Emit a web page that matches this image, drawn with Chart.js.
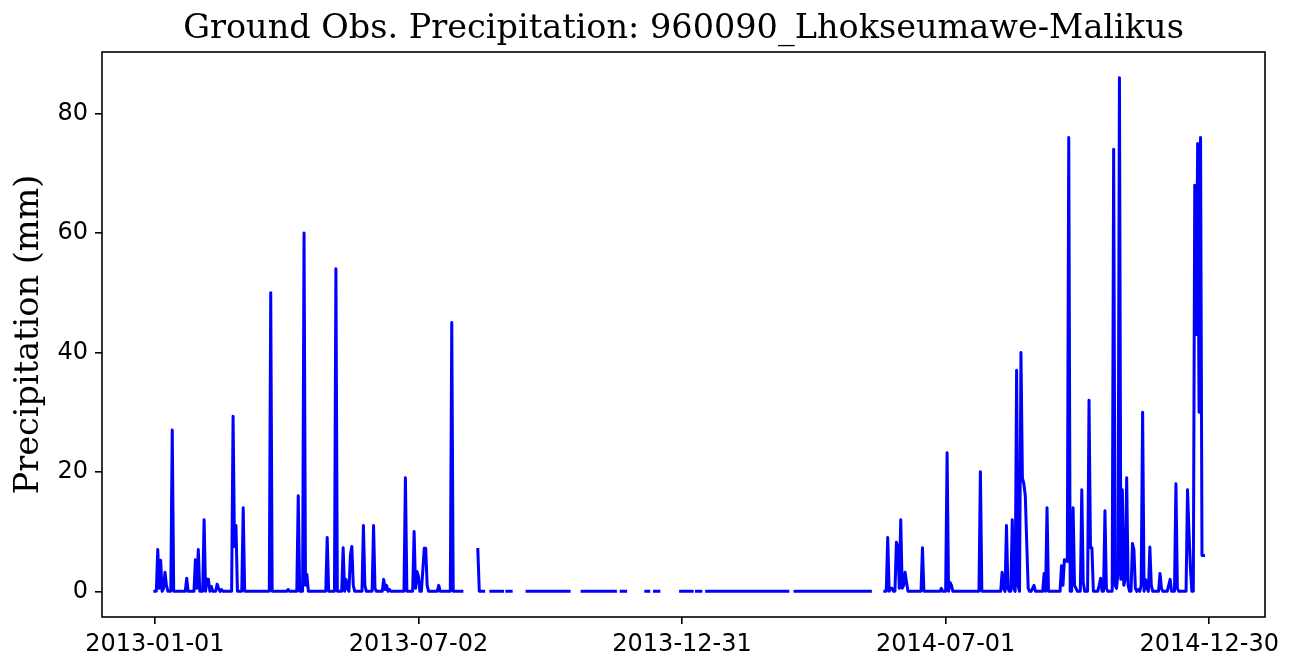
<!DOCTYPE html>
<html>
<head>
<meta charset="utf-8">
<title>Ground Obs. Precipitation</title>
<script src="https://cdn.jsdelivr.net/npm/chart.js@4.4.0/dist/chart.umd.min.js"></script>
<style>
    html, body { margin: 0; padding: 0; background: #fff; }
    #wrap { width: 1297px; height: 672px; }
</style>
</head>
<body>
<div id="wrap"><canvas id="precipChart" width="1297" height="672"></canvas></div>
<script>
    // Day offsets are counted from 2013-01-01
    // Days with observations (inclusive ranges); everything else is missing
    var validStart = [0, 223, 232, 243, 257, 275, 282, 295, 311, 322, 339, 345, 363, 368, 374, 381, 386, 442, 455, 458, 504];
    var validEnd   = [212, 227, 240, 246, 273, 280, 286, 309, 318, 325, 341, 348, 366, 371, 377, 384, 437, 453, 456, 494, 724];

    // Rainy days (mm); other observed days are 0
    var rainDay = [
        2, 3, 4, 6, 7, 8, 12, 22, 28, 29, 30, 34, 36, 37, 39, 43, 44, 46,
        54, 55, 56, 61, 80, 92, 99, 103, 104, 105, 119, 125,
        130, 132, 133, 135, 136, 137, 144, 145, 151, 152, 158, 159, 160, 162,
        173, 179, 180, 181, 182, 185, 186, 187, 188, 196, 205, 223,
        506, 508, 509, 512, 513, 514, 515, 516, 517, 518, 519, 530, 543,
        547, 549, 550, 570, 585, 586, 588, 589, 592, 593,
        595, 596, 598, 599, 600, 601, 602, 603, 606, 607, 614, 616,
        626, 627, 628, 629, 630, 631, 634, 635, 636, 640, 641,
        645, 646, 647, 652, 653, 656, 657,
        662, 663, 664, 665, 666, 667, 668, 669, 670, 671, 672,
        675, 676, 677, 679, 681, 682, 684, 685, 687, 688, 694, 695,
        700, 701, 705, 706, 713, 714, 715, 718, 719, 720, 721, 722, 723, 724
    ];
    var rainMm = [
        7, 0.5, 5.2, 0.5, 3.2, 1, 27, 2.2, 5.3, 0.5, 7, 12, 2, 2, 0.8, 1.2, 0.5, 0.3,
        29.3, 7.5, 11, 14, 50, 0.3, 16, 60, 1, 2.8, 9, 54,
        7.3, 2, 0.4, 6, 7.5, 1, 11, 1, 11, 0.5, 2, 0.3, 1, 0.3,
        19, 10, 0.5, 3.3, 2.5, 3.5, 7.2, 7.2, 1, 1, 45, 7,
        9, 0.5, 0.5, 8.2, 7.5, 0.5, 12, 0.5, 1, 3.2, 1.5, 7.3, 0.5,
        23.2, 1.5, 1, 20, 3.2, 0.5, 11, 0.5, 12, 0.5,
        37, 1, 40, 19, 18, 16, 8, 0.5, 0.5, 1, 3, 14,
        4.3, 1, 5.3, 5.2, 5, 76, 14, 1, 0.5, 17, 1.5,
        32, 7.3, 7.3, 1, 2.2, 13.5, 0.5,
        74, 1, 0.5, 3, 86, 2, 17, 1, 2, 19, 1,
        8, 7, 0.5, 0.3, 1, 30, 2, 0.5, 7.4, 1, 3, 0.5,
        1, 2, 18, 0.5, 17, 10, 4, 68, 43, 75, 30, 76, 6, 6
    ];

    var totalDays = 731;
    var tickDays = [0, 182, 364, 546, 728];
    var tickLabels = ['2013-01-01', '2013-07-02', '2013-12-31', '2014-07-01', '2014-12-30'];
    var yTicks = [0, 20, 40, 60, 80];

    // Build the daily series (null = missing day)
    var daily = [];
    for (var d = 0; d < totalDays; d++) daily.push(null);
    validStart.forEach(function(s, i) {
        for (var k = s; k <= validEnd[i]; k++) daily[k] = 0;
    });
    rainDay.forEach(function(day, i) {
        daily[day] = rainMm[i];
    });
    var points = daily.map(function(v, i) { return { x: i, y: v }; });

    // Matplotlib-like box around the plot area
    var frameBox = {
        id: 'frameBox',
        afterDatasetsDraw: function(chart) {
            var a = chart.chartArea, ctx = chart.ctx;
            ctx.save();
            ctx.strokeStyle = '#000';
            ctx.lineWidth = 1.6;
            ctx.strokeRect(a.left, a.top, a.right - a.left, a.bottom - a.top);
            ctx.restore();
        }
    };

    var tickFont = { family: '"DejaVu Sans", sans-serif', size: 24 };
    var serifFont = { family: '"DejaVu Serif", serif', size: 33.5, weight: 'normal' };

    new Chart(document.getElementById('precipChart'), {
        type: 'line',
        data: {
            datasets: [{
                label: 'Precipitation',
                data: points,
                borderColor: '#0000ff',
                borderWidth: 3,
                borderCapStyle: 'square',
                borderJoinStyle: 'round',
                pointRadius: 0,
                tension: 0,
                spanGaps: false,
                fill: false
            }]
        },
        options: {
            responsive: false,
            animation: false,
            events: [],
            layout: { padding: { left: 0, right: 32, top: 0, bottom: 0 } },
            plugins: {
                legend: { display: false },
                tooltip: { enabled: false },
                title: {
                    display: true,
                    fullSize: false,
                    text: 'Ground Obs. Precipitation: 960090_Lhokseumawe-Malikus',
                    color: '#000',
                    font: serifFont,
                    padding: { top: 9, bottom: 2.8 }
                }
            },
            scales: {
                x: {
                    type: 'linear',
                    min: -36.5,
                    max: 766.5,
                    afterBuildTicks: function(axis) {
                        axis.ticks = tickDays.map(function(v) { return { value: v }; });
                    },
                    afterFit: function(scale) { scale.height = 55; },
                    ticks: {
                        autoSkip: false,
                        maxRotation: 0,
                        padding: 6,
                        color: '#000',
                        font: tickFont,
                        callback: function(value) { return tickLabels[tickDays.indexOf(value)]; }
                    },
                    grid: { drawOnChartArea: false, drawTicks: true, tickLength: 7, color: '#000', lineWidth: 1.6 },
                    border: { display: false }
                },
                y: {
                    min: -4.3,
                    max: 90.3,
                    afterBuildTicks: function(axis) {
                        axis.ticks = yTicks.map(function(v) { return { value: v }; });
                    },
                    afterFit: function(scale) { scale.width = 102; },
                    ticks: {
                        padding: 7,
                        color: '#000',
                        font: tickFont
                    },
                    grid: { drawOnChartArea: false, drawTicks: true, tickLength: 7, color: '#000', lineWidth: 1.6 },
                    border: { display: false },
                    title: {
                        display: true,
                        text: 'Precipitation (mm)',
                        color: '#000',
                        font: serifFont,
                        padding: { top: 9, bottom: 0 }
                    }
                }
            }
        },
        plugins: [frameBox]
    });
</script>
</body>
</html>
